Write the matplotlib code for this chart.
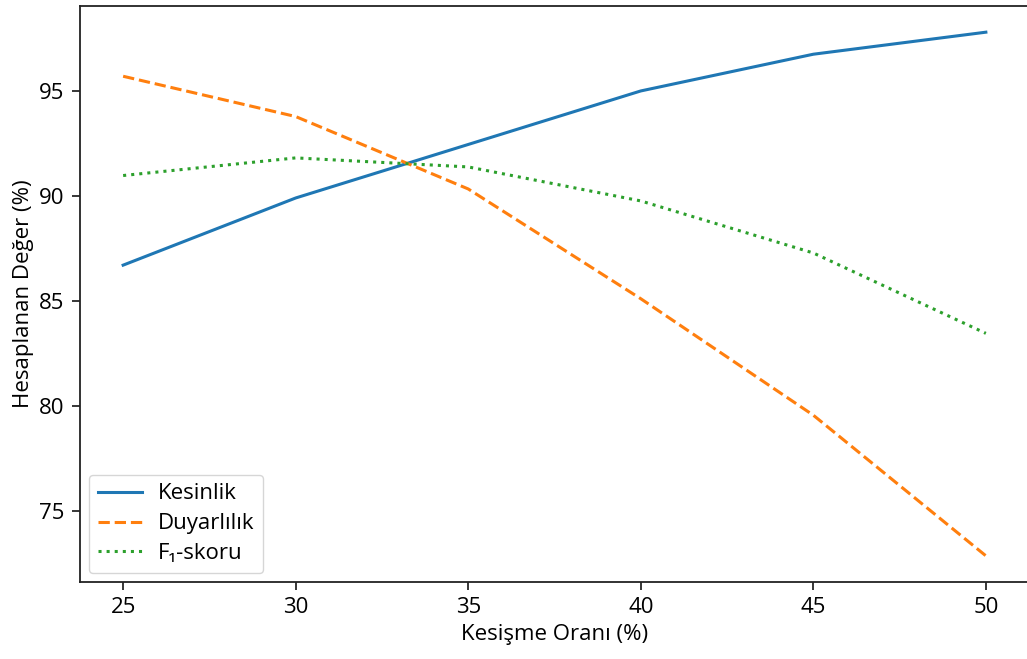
import matplotlib
matplotlib.use("Agg")
import matplotlib.pyplot as plt

plt.rcParams['font.family'] = ['Open Sans', 'DejaVu Sans']

oran = [25, 30, 35, 40, 45, 50]
kesinlik = [86.7, 89.9, 92.45, 95.0, 96.75, 97.8]
duyarlilik = [95.7, 93.78, 90.33, 85.1, 79.55, 72.85]
f1 = [90.97, 91.81, 91.38, 89.76, 87.28, 83.45]
x_ticks = [25, 30, 35, 40, 45, 50]
y_ticks = [75, 80, 85, 90, 95]

fig = plt.figure(figsize=(10.27, 6.59), dpi=100)
ax = fig.add_axes([80/1027, 77/659, 949/1027, 576/659])

ax.plot(oran, kesinlik, '-', color='#1f77b4', lw=2.2, label='Kesinlik')
ax.plot(oran, duyarlilik, '--', color='#ff7f0e', lw=2.2, label='Duyarlılık')
ax.plot(oran, f1, ':', color='#2ca02c', lw=2.2, label='F₁-skoru')

fs = 16
ax.set_xticks(x_ticks)
ax.set_yticks(y_ticks)
ax.tick_params(labelsize=fs, length=6, width=1.1, pad=5)
ax.set_xlabel('Kesişme Oranı (%)', fontsize=fs, labelpad=4)
ax.set_ylabel('Hesaplanan Değer (%)', fontsize=fs, labelpad=4)
for s in ax.spines.values():
    s.set_linewidth(1.3)
    s.set_color('#222222')

leg = ax.legend(loc='lower left', fontsize=fs, handlelength=2.0, borderaxespad=0.4,
                labelspacing=0.4, handletextpad=0.7)

fig.savefig('out.png', dpi=100)
